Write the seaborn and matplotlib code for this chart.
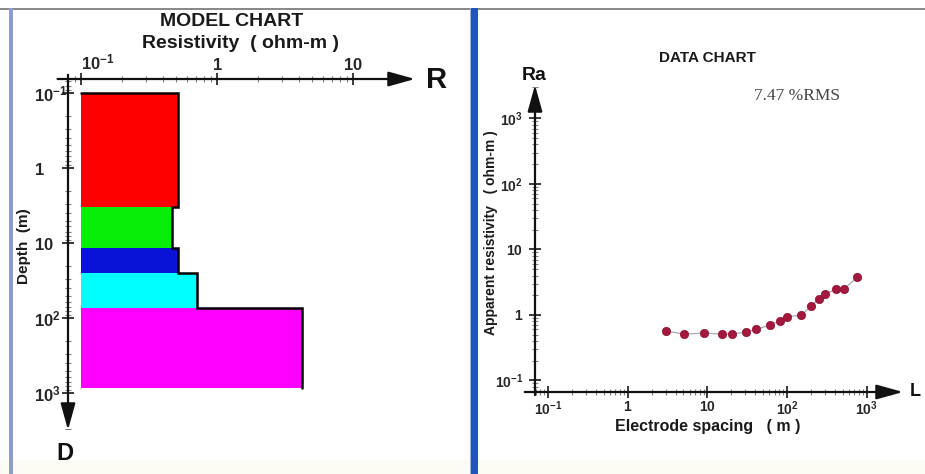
import numpy as np
import pandas as pd
import matplotlib
matplotlib.use('Agg')
import matplotlib.pyplot as plt
import seaborn as sns
from matplotlib.patches import Rectangle
from matplotlib.ticker import FixedLocator, FixedFormatter, NullFormatter

# ---------------- data ----------------
# model layers (depth in m, resistivity in ohm-m)
layer_top = [0.1, 3.3, 11.7, 25, 74]
layer_bottom = [3.3, 11.7, 25, 74, 860]
layer_res = [0.52, 0.47, 0.52, 0.71, 4.2]
layer_colors = ['#ff0000', '#08ee08', '#0a12d8', '#00ffff', '#ff00ff']

# field data
spacing = [3.0, 5.1, 9.1, 15.2, 20.4, 30.3, 40.5, 60.6, 80.7, 100, 150, 201, 250, 303, 405, 516, 760]
app_res = [0.57, 0.51, 0.53, 0.51, 0.51, 0.55, 0.60, 0.70, 0.82, 0.94, 0.99, 1.37, 1.74, 2.09, 2.47, 2.47, 3.76]

model_xticks = [0.1, 1, 10]
model_xticklabels = [r'$\mathbf{10^{-1}}$', r'$\mathbf{1}$', r'$\mathbf{10}$']
model_yticks = [0.1, 1, 10, 100, 1000]
model_yticklabels = [r'$\mathbf{10^{-1}}$', r'$\mathbf{1}$', r'$\mathbf{10}$', r'$\mathbf{10^{2}}$', r'$\mathbf{10^{3}}$']
data_xticks = [0.1, 1, 10, 100, 1000]
data_xticklabels = [r'$\mathbf{10^{-1}}$', r'$\mathbf{1}$', r'$\mathbf{10}$', r'$\mathbf{10^{2}}$', r'$\mathbf{10^{3}}$']
data_yticks = [0.1, 1, 10, 100, 1000]
data_yticklabels = [r'$\mathbf{10^{-1}}$', r'$\mathbf{1}$', r'$\mathbf{10}$', r'$\mathbf{10^{2}}$', r'$\mathbf{10^{3}}$']

rms_text = '7.47 %RMS'

# minor tick positions (2..9 times each decade)
minor_ticks = [m * 10.0 ** e for e in range(-2, 4) for m in range(2, 10)]

# ---------------- style ----------------
sns.set_style('white')
plt.rcParams['font.family'] = ['Liberation Sans', 'DejaVu Sans']
plt.rcParams['mathtext.fontset'] = 'custom'
plt.rcParams['mathtext.rm'] = 'Liberation Sans'
plt.rcParams['mathtext.bf'] = 'Liberation Sans:bold'

W, H = 925, 474
fig = plt.figure(figsize=(W / 100, H / 100), dpi=100)
fig.patch.set_facecolor('white')

def fpos(l, t, r, b):
    return [l / W, 1 - b / H, (r - l) / W, (b - t) / H]

def ftext(x, y, s, **kw):
    fig.text(x / W, 1 - y / H, s, **kw)

# frame decorations
fig.add_artist(Rectangle((0, 0), 1, 14 / H, transform=fig.transFigure, facecolor='#fcfcf4', edgecolor='none', zorder=-10))
fig.add_artist(Rectangle((0, 1 - 10 / H), 1, 2.5 / H, transform=fig.transFigure, facecolor='#8a8a8a', edgecolor='none', zorder=5))
fig.add_artist(Rectangle((9 / W, 0), 3.5 / W, 1 - 8 / H, transform=fig.transFigure, facecolor='#8d9ccc', edgecolor='none', zorder=5))
fig.add_artist(Rectangle((469.5 / W, 0), 1.5 / W, 1 - 8 / H, transform=fig.transFigure, facecolor='#9fb0e0', edgecolor='none', zorder=5))
fig.add_artist(Rectangle((471 / W, 0), 7 / W, 1 - 8 / H, transform=fig.transFigure, facecolor='#2152c4', edgecolor='none', zorder=5))

axis_color = '#2a2a2a'

def style_axes(ax):
    for s in ax.spines.values():
        s.set_visible(False)
    ax.set_facecolor('none')
    ax.tick_params(which='major', direction='inout', length=9, width=1.3, color=axis_color)
    ax.tick_params(which='minor', direction='inout', length=4, width=0.8, color='#808080')

arrow_props = dict(arrowstyle='-|>,head_length=0.9,head_width=0.25', mutation_scale=18,
                   color='#111111', lw=1.6, shrinkA=0, shrinkB=0)

# ---------------- left: model chart ----------------
axL = fig.add_axes(fpos(68, 79, 415, 430))
style_axes(axL)
axL.set_xscale('log')
axL.set_yscale('log')

for top, bot, res, col in zip(layer_top, layer_bottom, layer_res, layer_colors):
    axL.barh(y=top, width=res - model_xticks[0], height=bot - top, left=model_xticks[0],
             align='edge', color=col, edgecolor='none', zorder=2)

# model step outline
sx = [model_xticks[0]]
sy = [layer_top[0]]
for top, bot, res in zip(layer_top, layer_bottom, layer_res):
    sx += [res, res]
    sy += [top, bot]
axL.plot(sx, sy, color='black', lw=1.8, zorder=3, solid_joinstyle='miter')

axL.set_xlim(10 ** -1.0956, 10 ** 1.456)
axL.set_ylim(10 ** 3.49, 10 ** -1.187)
axL.xaxis.set_ticks_position('top')
axL.xaxis.set_label_position('top')
axL.xaxis.set_major_locator(FixedLocator(model_xticks))
axL.xaxis.set_major_formatter(FixedFormatter(model_xticklabels))
axL.xaxis.set_minor_locator(FixedLocator(minor_ticks))
axL.xaxis.set_minor_formatter(NullFormatter())
axL.yaxis.set_major_locator(FixedLocator(model_yticks))
axL.yaxis.set_major_formatter(FixedFormatter(model_yticklabels))
axL.yaxis.set_minor_locator(FixedLocator(minor_ticks))
axL.yaxis.set_minor_formatter(NullFormatter())
axL.tick_params(axis='x', which='both', top=True, bottom=False, labeltop=True, labelbottom=False)
axL.tick_params(axis='y', which='both', left=True, right=False)
axL.tick_params(axis='x', which='major', labelsize=12, pad=0)
axL.tick_params(axis='y', which='major', labelsize=12, pad=20)
for lbl in axL.get_xticklabels()[:1]:
    lbl.set_horizontalalignment('left')
for lbl in axL.get_yticklabels():
    lbl.set_horizontalalignment('left')

axL.annotate('', xy=(1, 1), xytext=(-0.03, 1), xycoords='axes fraction', textcoords='axes fraction',
             arrowprops=arrow_props, annotation_clip=False)
axL.annotate('', xy=(0, 0), xytext=(0, 1.012), xycoords='axes fraction', textcoords='axes fraction',
             arrowprops=arrow_props, annotation_clip=False)

ftext(232, 22, 'MODEL CHART', ha='center', va='center', fontsize=14, fontweight='bold', color='#1a1a1a')
ftext(240, 44, 'Resistivity  ( ohm-m )', ha='center', va='center', fontsize=14, fontweight='bold', color='#1a1a1a')
ftext(437, 80, 'R', ha='center', va='center', fontsize=21, fontweight='bold', color='#111111')
ftext(65, 454, 'D', ha='center', va='center', fontsize=17, fontweight='bold', color='#111111')
ftext(24, 246, 'Depth  (m)', ha='center', va='center', rotation=90, fontsize=11, fontweight='bold', color='#1a1a1a')

# ---------------- right: data chart ----------------
axR = fig.add_axes(fpos(535, 85, 903, 392))
style_axes(axR)
axR.set_xscale('log')
axR.set_yscale('log')

df = pd.DataFrame({'spacing': spacing, 'app_res': app_res})
sns.lineplot(data=df, x='spacing', y='app_res', ax=axR, color='#a8a8b8', lw=0.9, zorder=2)
sns.scatterplot(data=df, x='spacing', y='app_res', ax=axR, color='#a3183c', s=36, edgecolor='#8a1030',
                linewidth=0.5, zorder=3)

axR.set_xlim(10 ** -1.163, 10 ** 3.454)
axR.set_ylim(10 ** -1.176, 10 ** 3.51)
axR.xaxis.set_major_locator(FixedLocator(data_xticks))
axR.xaxis.set_major_formatter(FixedFormatter(data_xticklabels))
axR.xaxis.set_minor_locator(FixedLocator(minor_ticks))
axR.xaxis.set_minor_formatter(NullFormatter())
axR.yaxis.set_major_locator(FixedLocator(data_yticks))
axR.yaxis.set_major_formatter(FixedFormatter(data_yticklabels))
axR.yaxis.set_minor_locator(FixedLocator(minor_ticks))
axR.yaxis.set_minor_formatter(NullFormatter())
axR.tick_params(axis='x', which='both', bottom=True, top=False)
axR.tick_params(axis='y', which='both', left=True, right=False)
axR.tick_params(axis='x', which='major', labelsize=10, pad=1)
axR.tick_params(axis='y', which='major', labelsize=10, pad=4)
axR.set_xlabel('')
axR.set_ylabel('')

axR.annotate('', xy=(1, 0), xytext=(-0.028, 0), xycoords='axes fraction', textcoords='axes fraction',
             arrowprops=arrow_props, annotation_clip=False)
axR.annotate('', xy=(0, 1), xytext=(0, -0.01), xycoords='axes fraction', textcoords='axes fraction',
             arrowprops=arrow_props, annotation_clip=False)

ftext(707, 58, 'DATA CHART', ha='center', va='center', fontsize=11, fontweight='bold', color='#1a1a1a')
ftext(797, 96, rms_text, ha='center', va='center', fontsize=12.5, family='Liberation Serif', color='#444444')
ftext(534, 75, 'Ra', ha='center', va='center', fontsize=14, fontweight='bold', color='#111111')
ftext(910, 392, 'L', ha='left', va='center', fontsize=13, fontweight='bold', color='#111111')
ftext(708, 427, 'Electrode spacing   ( m )', ha='center', va='center', fontsize=11.5, fontweight='bold', color='#1a1a1a')
ftext(491, 233, 'Apparent resistivity   ( ohm-m )', ha='center', va='center', rotation=90, fontsize=10,
      fontweight='bold', color='#1a1a1a')

fig.savefig('out.png', dpi=100)
